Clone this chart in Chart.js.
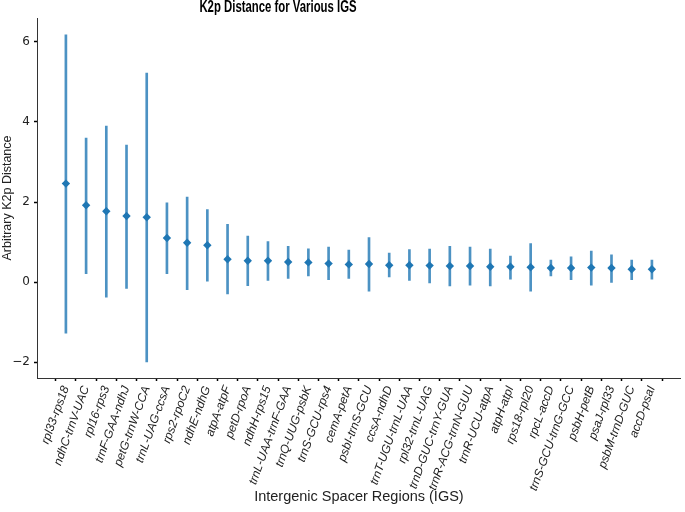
<!DOCTYPE html>
<html>
<head>
<meta charset="utf-8">
<script src="https://cdn.jsdelivr.net/npm/chart.js@4"></script>
<style>
  html, body { margin: 0; padding: 0; background: #fff; }
  #wrap { width: 685px; height: 512px; }
</style>
</head>
<body>
<div id="wrap"><canvas id="k2pPlot" width="685" height="512"></canvas></div>
<script>
// IGS regions (x categories)
const regions = [
  "rpl33-rps18", "ndhC-trnV-UAC", "rpl16-rps3", "trnF-GAA-ndhJ", "petG-trnW-CCA",
  "trnL-UAG-ccsA", "rps2-rpoC2", "ndhE-ndhG", "atpA-atpF", "petD-rpoA",
  "ndhH-rps15", "trnL-UAA-trnF-GAA", "trnQ-UUG-psbK", "trnS-GCU-rps4", "cemA-petA",
  "psbI-trnS-GCU", "ccsA-ndhD", "trnT-UGU-trnL-UAA", "rpl32-trnL-UAG", "trnD-GUC-trnY-GUA",
  "trnR-ACG-trnN-GUU", "trnR-UCU-atpA", "atpH-atpI", "rps18-rpl20", "rpcL-accD",
  "trnS-GCU-trnG-GCC", "psbH-petB", "psaJ-rpl33", "psbM-trnD-GUC", "accD-psaI"
];

// mean K2p distance
const k2pMean = [
  2.46, 1.92, 1.77, 1.65, 1.62, 1.10, 0.98, 0.92, 0.57, 0.53,
  0.53, 0.50, 0.49, 0.46, 0.44, 0.45, 0.42, 0.42, 0.41, 0.40,
  0.40, 0.38, 0.38, 0.37, 0.35, 0.35, 0.36, 0.35, 0.32, 0.32
];

// error bar lower / upper ends
const k2pLow = [
  -1.28, 0.21, -0.38, -0.16, -2.00, 0.21, -0.19, 0.02, -0.30, -0.09,
  0.04, 0.09, 0.15, 0.06, 0.09, -0.23, 0.13, 0.04, -0.02, -0.10,
  -0.08, -0.10, 0.07, -0.23, 0.15, 0.06, -0.08, -0.01, 0.06, 0.07
];
const k2pHigh = [
  6.18, 3.60, 3.90, 3.42, 5.22, 1.98, 2.12, 1.81, 1.44, 1.15,
  1.01, 0.89, 0.83, 0.87, 0.80, 1.11, 0.72, 0.81, 0.82, 0.89,
  0.87, 0.82, 0.65, 0.96, 0.55, 0.63, 0.77, 0.68, 0.55, 0.55
];

// y axis tick values
const yTicks = [-2, 0, 2, 4, 6];

const blue = "#1f77b4";
const axisColor = "#333333";
const sansFont = "'Liberation Sans', Arial, sans-serif";

// plot title, drawn off-centre and condensed like the source figure
const titlePlugin = {
  id: "offsetTitle",
  afterDraw(chart) {
    const ctx = chart.ctx;
    ctx.save();
    ctx.font = "bold 16px " + sansFont;
    ctx.fillStyle = "#000";
    ctx.textAlign = "center";
    ctx.textBaseline = "middle";
    ctx.translate(278, 8);
    ctx.scale(0.71, 1);
    ctx.fillText("K2p Distance for Various IGS", 0, 0);
    ctx.restore();
  }
};

new Chart(document.getElementById("k2pPlot"), {
  data: {
    datasets: [
      {
        type: "bar",
        label: "Range",
        data: regions.map((r, i) => ({ x: i, y: [k2pLow[i], k2pHigh[i]] })),
        backgroundColor: "rgba(31, 119, 180, 0.8)",
        borderWidth: 0,
        barThickness: 2,
        order: 2,
      },
      {
        type: "scatter",
        label: "K2p",
        data: regions.map((r, i) => ({ x: i, y: k2pMean[i] })),
        pointStyle: "rectRot",
        pointRadius: 4.2,
        pointBorderWidth: 0,
        backgroundColor: blue,
        borderColor: blue,
        order: 1,
      },
    ],
  },
  plugins: [titlePlugin],
  options: {
    responsive: false,
    animation: false,
    layout: {
      padding: { top: 18, right: 2, left: 0, bottom: 0 },
    },
    scales: {
      x: {
        type: "linear",
        offset: false,
        min: -1.43,
        max: 30.43,
        afterBuildTicks: (scale) => {
          scale.ticks = regions.map((r, i) => ({ value: i }));
        },
        afterFit: (scale) => {
          scale.height = 134;
        },
        border: { display: true, color: axisColor, width: 1 },
        grid: {
          display: true,
          drawOnChartArea: false,
          drawTicks: true,
          tickLength: 3,
          tickWidth: 1.5,
          tickColor: "#000",
        },
        ticks: {
          autoSkip: false,
          minRotation: 70,
          maxRotation: 70,
          padding: 3,
          color: "#222",
          font: { family: sansFont, size: 12, style: "italic" },
          callback: (val) => regions[val],
        },
        title: {
          display: true,
          text: "Intergenic Spacer Regions (IGS)",
          color: "#222",
          font: { family: sansFont, size: 14.5 },
          padding: { top: 0, bottom: 6 },
        },
      },
      y: {
        min: -2.4,
        max: 6.6,
        afterBuildTicks: (scale) => {
          scale.ticks = yTicks.map((v) => ({ value: v }));
        },
        afterFit: (scale) => {
          scale.width = 37;
        },
        border: { display: true, color: axisColor, width: 1 },
        grid: {
          display: true,
          drawOnChartArea: false,
          drawTicks: true,
          tickLength: 3,
          tickWidth: 1.5,
          tickColor: "#000",
        },
        ticks: {
          padding: 4,
          color: "#222",
          font: { family: "'DejaVu Sans', sans-serif", size: 12 },
          callback: (val) => (val < 0 ? "\u2212" + Math.abs(val) : String(val)),
        },
        title: {
          display: true,
          text: "Arbitrary K2p Distance",
          color: "#222",
          font: { family: sansFont, size: 12.5 },
          padding: { top: 0, bottom: 0 },
        },
      },
    },
    plugins: {
      legend: { display: false },
      tooltip: { enabled: false },
    },
  },
});
</script>
</body>
</html>
